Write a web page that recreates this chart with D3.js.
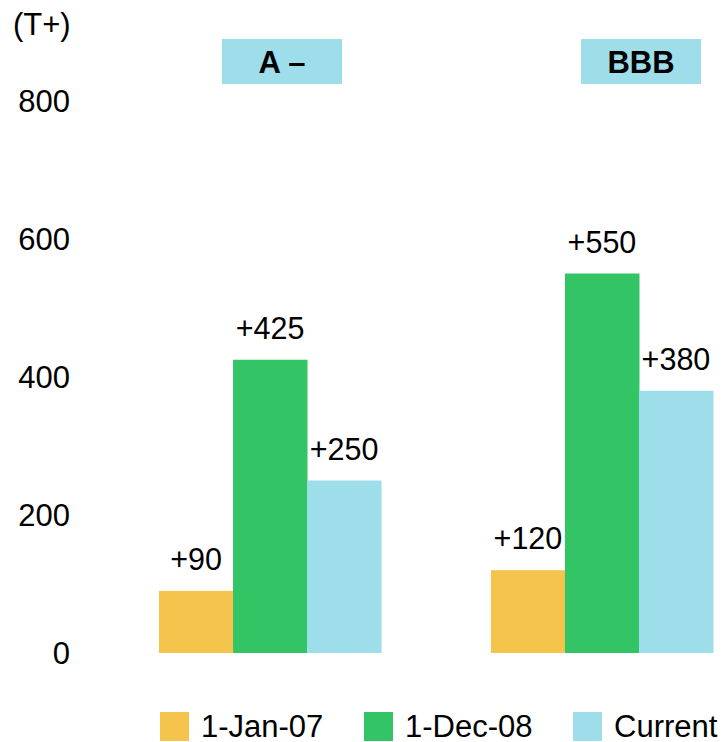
<!DOCTYPE html>
<html>
<head>
<meta charset="utf-8">
<script src="https://cdn.jsdelivr.net/npm/d3@7/dist/d3.min.js"></script>
<style>
  html, body { margin: 0; padding: 0; background: #fff; }
  svg text { font-family: "Liberation Sans", Arial, sans-serif; fill: #000; }
</style>
</head>
<body>
<svg id="chart" width="726" height="742"></svg>
<script>
// Rating groups and the three observation dates
const groups = ["A –", "BBB"];
const seriesNames = ["1-Jan-07", "1-Dec-08", "Current"];
const seriesColors = ["#F5C44C", "#33C466", "#9EDEEA"];
const valuesJan07 = [90, 120];
const valuesDec08 = [425, 550];
const valuesCurrent = [250, 380];
const yTicks = [0, 200, 400, 600, 800];

const series = [valuesJan07, valuesDec08, valuesCurrent];

const svg = d3.select("#chart");

const plotTop = 101, plotBottom = 653;
const y = d3.scaleLinear().domain([0, 800]).range([plotBottom, plotTop]);

// group positions across the plot
const x0 = d3.scaleBand().domain(groups).range([159, 713]).paddingInner(0.331).paddingOuter(0);
const x1 = d3.scaleBand().domain(seriesNames).range([0, x0.bandwidth()]).padding(0);

// y axis: labels only, no line or ticks
const yAxis = d3.axisLeft(y).tickValues(yTicks).tickSize(0).tickPadding(0);
const gy = svg.append("g").attr("transform", "translate(70,0)").call(yAxis);
gy.select(".domain").remove();
gy.selectAll("text")
  .attr("font-size", 31)
  .attr("font-family", "Liberation Sans, Arial, sans-serif")
  .attr("fill", "#000")
  .attr("dy", "0.35em");

svg.append("text").attr("x", 13).attr("y", 35).attr("font-size", 31).text("(T+)");

// bars with value labels
const gGroups = svg.append("g").selectAll("g")
  .data(groups)
  .join("g")
  .attr("transform", d => `translate(${x0(d)},0)`);

gGroups.each(function(g, gi) {
  const sel = d3.select(this);
  seriesNames.forEach((s, si) => {
    const v = series[si][gi];
    sel.append("rect")
      .attr("x", x1(s))
      .attr("y", y(v))
      .attr("width", x1.bandwidth() + 0.5)
      .attr("height", y(0) - y(v))
      .attr("fill", seriesColors[si]);
    sel.append("text")
      .attr("x", x1(s) + x1.bandwidth() / 2)
      .attr("y", y(v) - 21)
      .attr("text-anchor", "middle")
      .attr("font-size", 30.5)
      .text("+" + v);
  });
});

// rating header boxes
const headerCenters = [282, 641];
const boxW = 120, boxH = 45;
const headers = svg.append("g").selectAll("g")
  .data(groups)
  .join("g")
  .attr("transform", (d, i) => `translate(${headerCenters[i]},0)`);
headers.append("rect")
  .attr("x", -boxW / 2)
  .attr("y", 39)
  .attr("width", boxW)
  .attr("height", boxH)
  .attr("fill", "#9EDEEA");
headers.append("text")
  .attr("x", 0)
  .attr("y", 73)
  .attr("text-anchor", "middle")
  .attr("font-size", 31)
  .attr("font-weight", "bold")
  .text(d => d);

// legend
const legendX = [160, 364, 573];
const legend = svg.append("g").selectAll("g")
  .data(seriesNames)
  .join("g")
  .attr("transform", (d, i) => `translate(${legendX[i]},712)`);
legend.append("rect").attr("width", 29).attr("height", 29).attr("fill", (d, i) => seriesColors[i]);
legend.append("text").attr("x", 41).attr("y", 25).attr("font-size", 31).text(d => d);
</script>
</body>
</html>
